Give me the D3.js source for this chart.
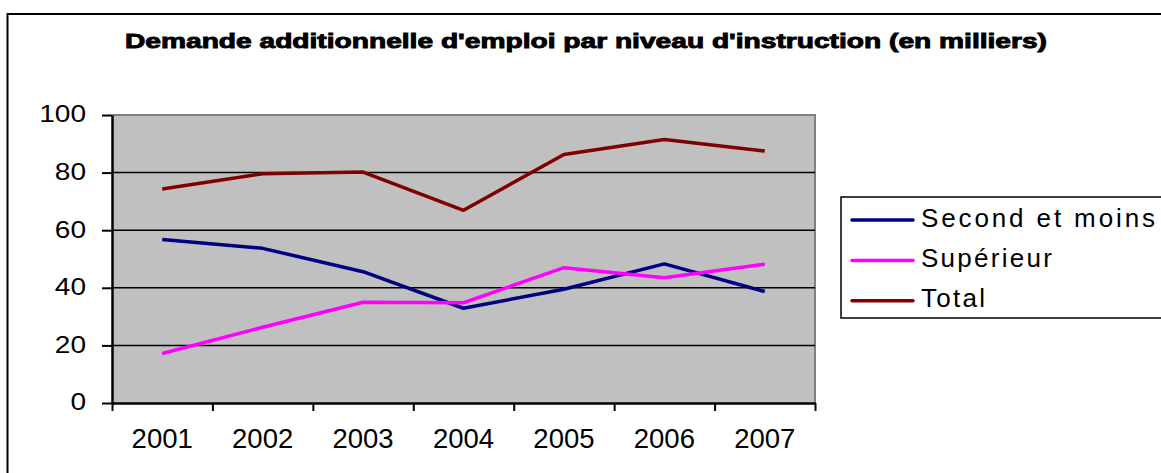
<!DOCTYPE html>
<html>
<head>
<meta charset="utf-8">
<script src="https://d3js.org/d3.v7.min.js"></script>
<title>Demande additionnelle d'emploi</title>
<style>
  body { margin: 0; background: #fff; }
  svg { display: block; font-family: "Liberation Sans", Arial, sans-serif; }
</style>
</head>
<body>
<svg width="1161" height="473"></svg>
<script>
const years = ["2001", "2002", "2003", "2004", "2005", "2006", "2007"];
const secondEtMoins = [56.8, 53.7, 45.6, 32.9, 39.5, 48.3, 38.7];
const superieur = [17.2, 26.3, 35.0, 34.8, 47.0, 43.5, 48.2];
const total = [74.3, 79.6, 80.2, 66.9, 86.3, 91.5, 87.5];
const seriesNames = ["Second et moins", "Supérieur", "Total"];
const seriesColors = ["#000080", "#ff00ff", "#800000"];
const yTicks = [0, 20, 40, 60, 80, 100];

const series = [secondEtMoins, superieur, total];
const svg = d3.select("svg");

// outer chart frame (cut off at right and bottom)
svg.append("rect")
  .attr("x", 7.5).attr("y", 14).attr("width", 1200).attr("height", 500)
  .attr("fill", "none").attr("stroke", "#000").attr("stroke-width", 2);

const plot = {left: 112, top: 115, right: 815, bottom: 403};

const x = d3.scaleBand().domain(years).range([plot.left, plot.right]);
const xEdge = d3.scaleLinear().domain([0, years.length]).range([plot.left, plot.right]);
const y = d3.scaleLinear().domain([0, 100]).range([plot.bottom, plot.top]);

// plot background
svg.append("rect")
  .attr("x", plot.left).attr("y", plot.top)
  .attr("width", plot.right - plot.left).attr("height", plot.bottom - plot.top)
  .attr("fill", "#c0c0c0");
svg.append("path")
  .attr("d", `M${plot.left},${plot.top}H${plot.right}V${plot.bottom}`)
  .attr("fill", "none").attr("stroke", "#808080").attr("stroke-width", 2);

// gridlines
svg.append("g")
  .selectAll("line")
  .data(yTicks.filter(d => d > 0 && d < 100))
  .join("line")
  .attr("x1", plot.left).attr("x2", plot.right)
  .attr("y1", d => y(d)).attr("y2", d => y(d))
  .attr("stroke", "#000").attr("stroke-width", 1.5);

// y axis
const yAxis = svg.append("g")
  .attr("transform", `translate(${plot.left},0)`)
  .call(d3.axisLeft(y).tickValues(yTicks).tickSize(10).tickPadding(16).tickSizeOuter(0));
yAxis.select(".domain").attr("stroke-width", 2.5);
yAxis.selectAll(".tick line").attr("stroke-width", 2);
yAxis.selectAll(".tick text")
  .attr("font-size", 23).attr("fill", "#000")
  .attr("dy", "0.3em")
  .each(function() {
    const w = this.getComputedTextLength();
    d3.select(this).attr("textLength", w * 1.22).attr("lengthAdjust", "spacingAndGlyphs");
  });

// x axis ticks at category edges
const xAxis = svg.append("g")
  .attr("transform", `translate(0,${plot.bottom})`)
  .call(d3.axisBottom(xEdge).tickValues(d3.range(years.length + 1)).tickSize(8).tickSizeOuter(0).tickFormat(""));
xAxis.select(".domain").attr("stroke-width", 2.5);
xAxis.selectAll(".tick line").attr("stroke-width", 2);

// x labels centered in categories
const xLabels = svg.append("g")
  .attr("transform", `translate(0,${plot.bottom})`)
  .call(d3.axisBottom(x).tickSize(0).tickPadding(25));
xLabels.select(".domain").remove();
xLabels.selectAll(".tick text").attr("font-size", 27.5).attr("fill", "#000");

// lines
const line = d3.line()
  .x((d, i) => x(years[i]) + x.bandwidth() / 2)
  .y(d => y(d));

svg.append("g")
  .selectAll("path")
  .data(series)
  .join("path")
  .attr("d", line)
  .attr("fill", "none")
  .attr("stroke", (d, i) => seriesColors[i])
  .attr("stroke-width", 3.5)
  .attr("stroke-linejoin", "round");

// title
svg.append("text")
  .attr("x", 586).attr("y", 48)
  .attr("text-anchor", "middle")
  .attr("font-size", 20.5).attr("font-weight", "bold")
  .attr("stroke", "#000").attr("stroke-width", 0.9)
  .attr("textLength", 922).attr("lengthAdjust", "spacingAndGlyphs")
  .text("Demande additionnelle d'emploi par niveau d'instruction (en milliers)");

// legend
const legend = svg.append("g");
legend.append("rect")
  .attr("x", 841).attr("y", 197).attr("width", 400).attr("height", 121)
  .attr("fill", "#fff").attr("stroke", "#000").attr("stroke-width", 1.5);
const legendText = [1155, 1052, 985];
const rows = legend.selectAll("g.row")
  .data(seriesNames)
  .join("g")
  .attr("class", "row")
  .attr("transform", (d, i) => `translate(0,${220 + i * 40.4})`);
rows.append("line")
  .attr("x1", 852).attr("x2", 913)
  .attr("stroke", (d, i) => seriesColors[i]).attr("stroke-width", 3.5)
  .attr("stroke-linecap", "round");
rows.append("text")
  .attr("x", 921).attr("y", 6.5)
  .attr("font-size", 26).attr("fill", "#000")
  .attr("textLength", (d, i) => legendText[i] - 921)
  .attr("lengthAdjust", "spacing")
  .text(d => d);
</script>
</body>
</html>
